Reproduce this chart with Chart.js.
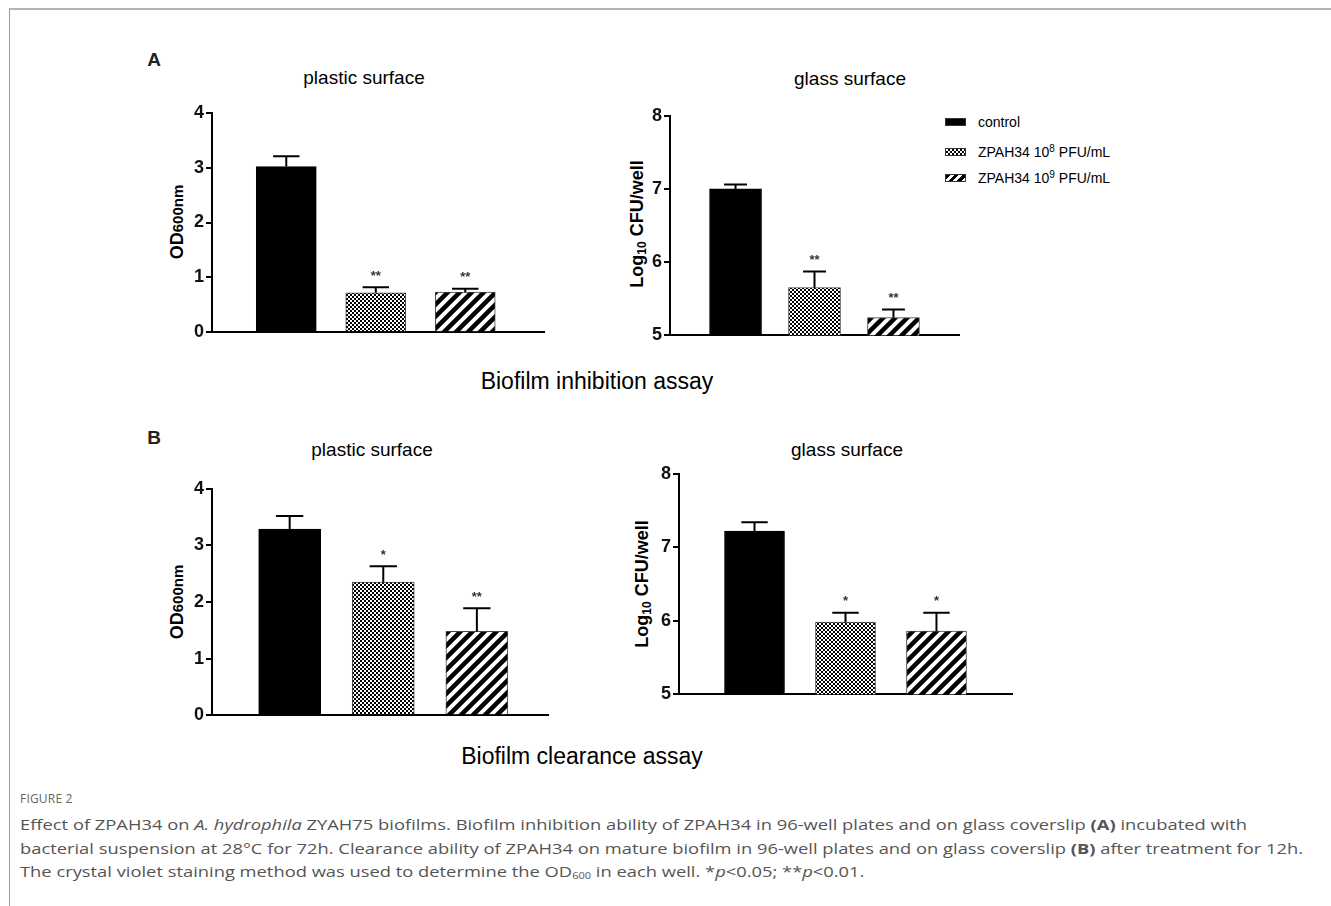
<!DOCTYPE html>
<html>
<head>
<meta charset="utf-8">
<script src="https://cdn.jsdelivr.net/npm/chart.js@4"></script>
<style>
  html, body { margin: 0; padding: 0; background: #fff; }
  #page { position: relative; width: 1331px; height: 906px; overflow: hidden; font-family: "Liberation Sans", Arial, sans-serif; color: #000; }
  #frame { position: absolute; left: 9px; top: 8px; right: 0; bottom: 0; border-top: 2px solid #b5b5b5; border-left: 1px solid #9a9a9a; }
  .box { position: absolute; }
  .txt { position: absolute; white-space: nowrap; transform: translate(-50%, -50%); }
  .letter { font-weight: bold; font-size: 19px; color: #222; }
  .title { font-size: 19px; }
  .assay { font-size: 23px; }
  .ytitle { position: absolute; white-space: nowrap; font-weight: bold; font-size: 18px; transform: translate(-50%, -50%) rotate(-90deg); }
  .ytitle sub { font-size: 12px; vertical-align: -3px; }
  .legend { position: absolute; left: 945px; font-size: 14px; white-space: nowrap; }
  .legend .row { position: absolute; left: 0; height: 20px; line-height: 20px; transform: translateY(-50%); }
  .legend .sw { position: absolute; left: 0; top: 6px; width: 21px; height: 8px; border: 1px solid #333; box-sizing: border-box; }
  .legend .lab { position: absolute; left: 33px; top: 0; }
  .legend sup { font-size: 10px; vertical-align: 5px; line-height: 0; }
  #caption { position: absolute; left: 20px; top: 790px; font-family: "Open Sans", "Noto Sans", sans-serif; color: #555; white-space: nowrap; }
  #caption .fig { font-size: 12px; color: #666; letter-spacing: 0.2px; margin-bottom: 6px; }
  #caption .body { font-size: 15px; line-height: 23.5px; transform-origin: 0 0; }
  #caption sub { font-size: 9px; vertical-align: -2px; line-height: 0; }
</style>
</head>
<body>
<div id="page">
  <div id="frame"></div>

  <div class="txt letter" style="left:154px; top:60px;">A</div>
  <div class="txt letter" style="left:154px; top:438px;">B</div>

  <div class="txt title" style="left:364px; top:78px;">plastic surface</div>
  <div class="txt title" style="left:850px; top:79px;">glass surface</div>
  <div class="txt title" style="left:372px; top:450px;">plastic surface</div>
  <div class="txt title" style="left:847px; top:450px;">glass surface</div>

  <div class="txt assay" style="left:597px; top:381px;">Biofilm inhibition assay</div>
  <div class="txt assay" style="left:582px; top:756px;">Biofilm clearance assay</div>

  <div class="ytitle" style="left:177px; top:222px;"><span style="font-size:18px">OD</span><span style="font-size:15px">600nm</span></div>
  <div class="ytitle" style="left:638px; top:224px;">Log<sub>10</sub> CFU/well</div>
  <div class="ytitle" style="left:177px; top:602px;"><span style="font-size:18px">OD</span><span style="font-size:15px">600nm</span></div>
  <div class="ytitle" style="left:643px; top:584px;">Log<sub>10</sub> CFU/well</div>

  <div class="legend" id="legend" style="top:0;"></div>

  <div class="box" id="boxA1"><canvas id="cA1"></canvas></div>
  <div class="box" id="boxA2"><canvas id="cA2"></canvas></div>
  <div class="box" id="boxB1"><canvas id="cB1"></canvas></div>
  <div class="box" id="boxB2"><canvas id="cB2"></canvas></div>

  <div id="caption">
    <div class="fig">FIGURE 2</div>
    <div class="body" id="capBody">
      Effect of ZPAH34 on <i>A. hydrophila</i> ZYAH75 biofilms. Biofilm inhibition ability of ZPAH34 in 96-well plates and on glass coverslip <b>(A)</b> incubated with<br>
      bacterial suspension at 28°C for 72h. Clearance ability of ZPAH34 on mature biofilm in 96-well plates and on glass coverslip <b>(B)</b> after treatment for 12h.<br>
      The crystal violet staining method was used to determine the OD<sub>600</sub> in each well. *<i>p</i>&lt;0.05; **<i>p</i>&lt;0.01.
    </div>
  </div>
</div>

<script>
// groups (legend)
const groups = ["control", "ZPAH34 10<sup>8</sup> PFU/mL", "ZPAH34 10<sup>9</sup> PFU/mL"];

// A: biofilm inhibition
const inhibPlastic = [3.02, 0.72, 0.73];
const inhibPlasticErr = [0.19, 0.10, 0.06];
const inhibPlasticSig = ["", "**", "**"];

const inhibGlass = [7.00, 5.65, 5.24];
const inhibGlassErr = [0.06, 0.22, 0.11];
const inhibGlassSig = ["", "**", "**"];

// B: biofilm clearance
const clearPlastic = [3.29, 2.35, 1.48];
const clearPlasticErr = [0.23, 0.28, 0.41];
const clearPlasticSig = ["", "*", "**"];

const clearGlass = [7.22, 5.98, 5.86];
const clearGlassErr = [0.12, 0.13, 0.25];
const clearGlassSig = ["", "*", "*"];

// y axis ranges
const odTicks = [0, 4];
const cfuTicks = [5, 8];

function checker() {
    let c = document.createElement("canvas");
    c.width = 4; c.height = 4;
    let g = c.getContext("2d");
    g.fillStyle = "#fff";
    g.fillRect(0, 0, 4, 4);
    g.fillStyle = "#000";
    g.fillRect(0, 0, 2, 2);
    g.fillRect(2, 2, 2, 2);
    return g.createPattern(c, "repeat");
}

function stripes() {
    let c = document.createElement("canvas");
    c.width = 12; c.height = 12;
    let g = c.getContext("2d");
    g.fillStyle = "#fff";
    g.fillRect(0, 0, 12, 12);
    g.strokeStyle = "#000";
    g.lineWidth = 4.5;
    [[-3, 15, 15, -3], [-3, 3, 3, -3], [9, 15, 15, 9]].forEach(([a, b, c2, d]) => {
        g.beginPath();
        g.moveTo(a, b);
        g.lineTo(c2, d);
        g.stroke();
    });
    return g.createPattern(c, "repeat");
}

const fills = ["#000", checker(), stripes()];

// error bars + significance stars
const errorBars = {
    id: "errorBars",
    afterDatasetsDraw(chart) {
        let ctx = chart.ctx;
        let y = chart.scales.y;
        let meta = chart.getDatasetMeta(0);
        let ds = chart.data.datasets[0];
        ctx.save();
        meta.data.forEach((bar, i) => {
            let top = y.getPixelForValue(ds.means[i] + ds.errs[i]);
            let half = bar.width * 0.22;
            ctx.strokeStyle = "#000";
            ctx.lineWidth = 2;
            ctx.beginPath();
            ctx.moveTo(bar.x, bar.y);
            ctx.lineTo(bar.x, top);
            ctx.moveTo(bar.x - half, top);
            ctx.lineTo(bar.x + half, top);
            ctx.stroke();
            if (ds.sig[i]) {
                ctx.fillStyle = "#333";
                ctx.font = "bold 13px 'Liberation Sans', Arial";
                ctx.textAlign = "center";
                ctx.textBaseline = "middle";
                ctx.fillText(ds.sig[i], bar.x, top - 11);
            }
        });
        ctx.restore();
    },
};

function makeChart(id, box, geo, values, errs, sig, range, xmax, thickness) {
    let pad = 12;
    let yw = 40;
    let right = 4;
    let w = geo.xb - geo.xa + yw + right;
    let h = geo.yb - geo.yt + 2 * pad;
    let el = document.getElementById(box);
    el.style.left = geo.xa - yw + "px";
    el.style.top = geo.yt - pad + "px";
    let cv = document.getElementById(id);
    cv.width = w;
    cv.height = h;

    return new Chart(cv, {
        type: "bar",
        data: {
            datasets: [
                {
                    data: values.map((v, i) => ({ x: i + 1, y: v })),
                    means: values,
                    errs: errs,
                    sig: sig,
                    backgroundColor: fills,
                    borderColor: ["#000", "#444", "#444"],
                    borderWidth: 1,
                    barThickness: thickness,
                },
            ],
        },
        options: {
            responsive: false,
            animation: false,
            devicePixelRatio: 1,
            layout: { padding: { top: pad, bottom: pad, left: 0, right: right } },
            plugins: { legend: { display: false }, tooltip: { enabled: false } },
            scales: {
                x: {
                    type: "linear",
                    offset: false,
                    min: 0.17,
                    max: xmax,
                    grid: { display: false, offset: false },
                    ticks: { display: false },
                    border: { display: true, color: "#000", width: 2 },
                    afterFit: (s) => { s.height = 0; },
                },
                y: {
                    min: range[0],
                    max: range[1],
                    ticks: {
                        stepSize: 1,
                        color: "#111",
                        padding: 2,
                        font: { family: "'Liberation Sans', Arial", size: 18, weight: "bold" },
                    },
                    grid: { drawOnChartArea: false, drawTicks: true, tickLength: 6, color: "#000", lineWidth: 2 },
                    border: { display: true, color: "#000", width: 2 },
                    afterFit: (s) => { s.width = yw; },
                },
            },
        },
        plugins: [errorBars],
    });
}

makeChart("cA1", "boxA1", { xa: 212, xb: 544, yt: 112, yb: 333 }, inhibPlastic, inhibPlasticErr, inhibPlasticSig, odTicks, 3.88, 60);
makeChart("cA2", "boxA2", { xa: 670, xb: 959, yt: 115, yb: 336 }, inhibGlass, inhibGlassErr, inhibGlassSig, cfuTicks, 3.83, 52);
makeChart("cB1", "boxB1", { xa: 212, xb: 548, yt: 488, yb: 716 }, clearPlastic, clearPlasticErr, clearPlasticSig, odTicks, 3.76, 62);
makeChart("cB2", "boxB2", { xa: 679, xb: 1012, yt: 473, yb: 695 }, clearGlass, clearGlassErr, clearGlassSig, cfuTicks, 3.83, 60);

// legend
let legend = document.getElementById("legend");
let rowsY = [122, 152, 178];
let swatchCss = [
    "background:#000;",
    "background: repeating-conic-gradient(#000 0 25%, #fff 0 50%) 0 0 / 4px 4px;",
    "background: repeating-linear-gradient(135deg, #000 0 3px, #fff 3px 6px);",
];
groups.forEach((g, i) => {
    let row = document.createElement("div");
    row.className = "row";
    row.style.top = rowsY[i] + "px";
    row.innerHTML = '<span class="sw" style="' + swatchCss[i] + '"></span><span class="lab">' + g + "</span>";
    legend.appendChild(row);
});

// caption: fit second line width
let cap = document.getElementById("capBody");
let natural = cap.getBoundingClientRect().width;
cap.style.transform = "scaleX(" + (1283 / natural) + ")";
</script>
</body>
</html>
